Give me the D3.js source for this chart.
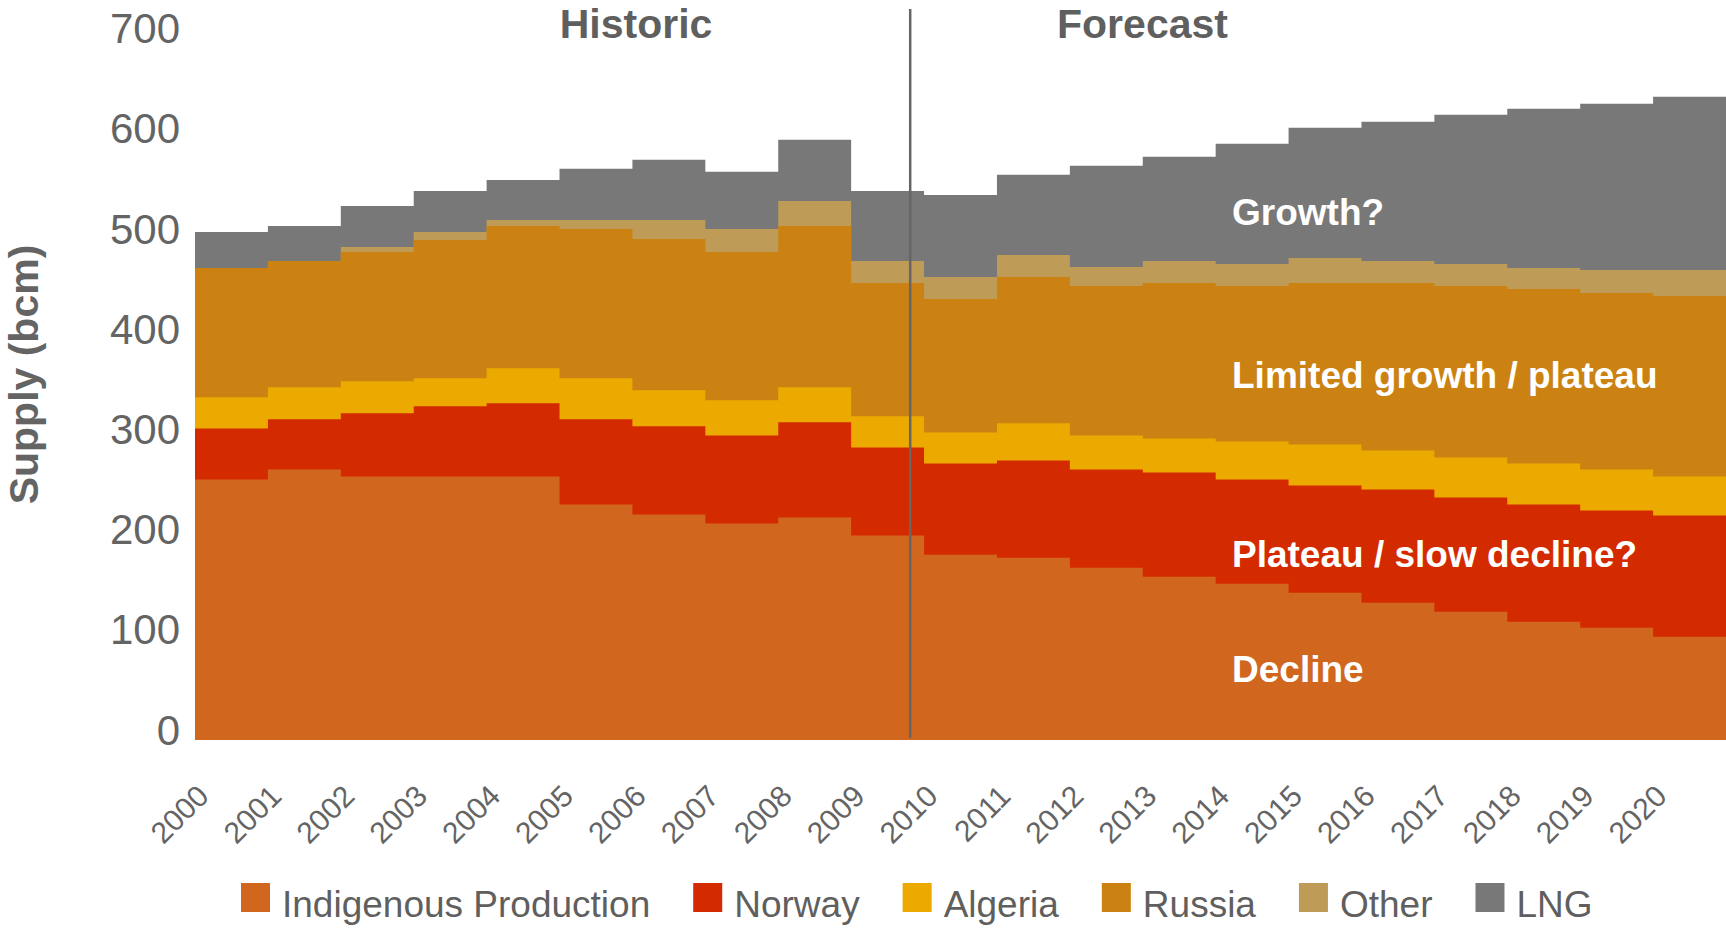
<!DOCTYPE html>
<html>
<head>
<meta charset="utf-8">
<script src="https://cdn.jsdelivr.net/npm/d3@7"></script>
<style>
  html, body { margin: 0; padding: 0; background: #fff; }
  svg { display: block; font-family: "Liberation Sans", Arial, sans-serif; }
</style>
</head>
<body>
<svg id="chart" width="1726" height="932"></svg>
<script>
// Gas supply by source, bcm per year (2000-2009 historic, 2010-2020 forecast)
const years = ["2000","2001","2002","2003","2004","2005","2006","2007","2008","2009","2010",
               "2011","2012","2013","2014","2015","2016","2017","2018","2019","2020"];
const indigenous = [260,270,263,263,263,235,225,216,222,204,185,182,172,163,156,147,137,128,118,112,103];
const norway     = [51,50,63,70,73,85,88,88,95,88,91,97,98,104,104,107,113,114,117,117,121];
const algeria    = [31,32,32,28,35,41,36,35,35,31,31,37,34,34,38,41,39,40,41,41,39];
const russia     = [129,126,129,138,142,149,151,148,161,133,133,146,149,155,155,161,167,171,174,176,180];
const other      = [0,0,5,8,6,9,19,23,25,22,22,22,19,22,22,25,22,22,21,23,26];
const lng        = [36,35,41,41,40,51,60,57,61,70,82,80,101,104,120,130,139,149,159,166,173];

const seriesNames = ["Indigenous Production","Norway","Algeria","Russia","Other","LNG"];
const seriesColors = ["#D1671F","#D42A00","#ECA900","#CB8212","#BE9B56","#787878"];
const yTicks = [0,100,200,300,400,500,600,700];
const forecastStart = "2010";
const periodLabels = ["Historic","Forecast"];
const notes = ["Growth?","Limited growth / plateau","Plateau / slow decline?","Decline"];

const rows = years.map((yr, i) => ({
  year: yr,
  "Indigenous Production": indigenous[i],
  "Norway": norway[i],
  "Algeria": algeria[i],
  "Russia": russia[i],
  "Other": other[i],
  "LNG": lng[i]
}));

const svg = d3.select("#chart");
const W = 1726, H = 932;
svg.append("rect").attr("width", W).attr("height", H).attr("fill", "#fff");

const x = d3.scaleBand().domain(years).range([195, 1726]).paddingInner(0).paddingOuter(0);
const y = d3.scaleLinear().domain([0, 700]).range([740, 38.6]);
const bw = x.bandwidth();

const stacked = d3.stack().keys(seriesNames)(rows);

// Stepped layers: every year holds a flat block across its band.
const stepArea = d3.area()
  .x(p => p.x)
  .y0(y(0))
  .y1(p => y(p.v));

const plot = svg.append("g");
// Paint each cumulative layer from the baseline, top layer first, so no seams show.
stacked.slice().reverse().forEach(layer => {
  const pts = [];
  layer.forEach((d, i) => {
    const x0 = x(years[i]);
    pts.push({ x: x0, v: d[1] });
    pts.push({ x: x0 + bw, v: d[1] });
  });
  plot.append("path")
    .attr("d", stepArea(pts))
    .attr("fill", seriesColors[seriesNames.indexOf(layer.key)]);
});

// Divider between historic and forecast periods
const divX = x(forecastStart) - 0.19 * bw;
svg.append("line")
  .attr("x1", divX).attr("x2", divX)
  .attr("y1", 9).attr("y2", 738)
  .attr("stroke", "#666").attr("stroke-width", 2.5);

// Period titles
svg.append("text").text(periodLabels[0])
  .attr("x", 636).attr("y", 38).attr("text-anchor", "middle")
  .attr("font-size", 41).attr("font-weight", "bold").attr("fill", "#5f5f5f");
svg.append("text").text(periodLabels[1])
  .attr("x", 1142.5).attr("y", 38).attr("text-anchor", "middle")
  .attr("font-size", 41).attr("font-weight", "bold").attr("fill", "#5f5f5f");

// Y axis (labels only)
const yAxis = svg.append("g")
  .attr("transform", "translate(180,0)")
  .call(d3.axisLeft(y).tickValues(yTicks).tickSize(0).tickPadding(0).tickFormat(d3.format("d")));
yAxis.select(".domain").remove();
yAxis.selectAll("text")
  .attr("x", 0).attr("dy", 4)
  .attr("font-size", 42).attr("fill", "#646464")
  .attr("font-family", "Liberation Sans, Arial, sans-serif");

svg.append("text").text("Supply (bcm)")
  .attr("transform", "translate(37.5,374.5) rotate(-90)")
  .attr("text-anchor", "middle")
  .attr("font-size", 41).attr("font-weight", "bold").attr("fill", "#646464");

// X axis (rotated year labels)
const xAxis = svg.append("g")
  .attr("transform", "translate(0,740)")
  .call(d3.axisBottom(x).tickSize(0).tickPadding(0));
xAxis.select(".domain").remove();
xAxis.selectAll("text")
  .attr("x", 0).attr("y", 0).attr("dy", 0)
  .attr("text-anchor", "end")
  .attr("transform", "translate(-21,58) rotate(-45)")
  .attr("font-size", 30).attr("fill", "#646464")
  .attr("font-family", "Liberation Sans, Arial, sans-serif");

// Annotations inside the layers
const noteBaselines = [224.7, 387.6, 567.4, 681.6];
notes.forEach((t, i) => {
  svg.append("text").text(t)
    .attr("x", 1232).attr("y", noteBaselines[i])
    .attr("font-size", 37).attr("font-weight", "bold").attr("fill", "#fff");
});

// Legend
const legend = svg.append("g");
let lx = 241;
seriesNames.forEach((name, i) => {
  legend.append("rect")
    .attr("x", lx).attr("y", 883).attr("width", 29).attr("height", 29)
    .attr("fill", seriesColors[i]);
  const t = legend.append("text").text(name)
    .attr("x", lx + 41).attr("y", 917)
    .attr("font-size", 37).attr("fill", "#5f5f5f");
  lx = lx + 41 + t.node().getComputedTextLength() + 43;
});
</script>
</body>
</html>
